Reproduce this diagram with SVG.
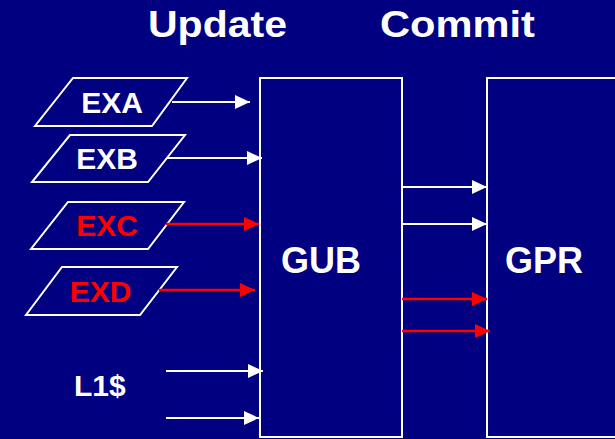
<svg xmlns="http://www.w3.org/2000/svg" width="615" height="439" viewBox="0 0 615 439">
<style>
.t{font-family:"Liberation Sans",Arial,sans-serif;font-weight:bold;fill:#ffffff}
.r{fill:#ff0000}
.box{fill:#000080;stroke:#ffffff;stroke-width:2}
.w{stroke:#ffffff;stroke-width:2;fill:none}
.rd{stroke:#ff0000;stroke-width:2.5;fill:none}
</style>
<defs>
<marker id="aw" markerUnits="userSpaceOnUse" markerWidth="16" markerHeight="16" refX="15" refY="7" orient="auto"><path d="M0,0 L15,7 L0,14 Z" fill="#ffffff"/></marker>
<marker id="ar" markerUnits="userSpaceOnUse" markerWidth="16" markerHeight="16" refX="15" refY="7" orient="auto"><path d="M0,0 L15,7 L0,14 Z" fill="#ff0000"/></marker>
</defs>
<rect width="615" height="439" fill="#000080"/>
<text class="t" x="148" y="37" font-size="37" textLength="139" lengthAdjust="spacingAndGlyphs">Update</text>
<text class="t" x="380" y="37" font-size="37" textLength="155" lengthAdjust="spacingAndGlyphs">Commit</text>
<g id="EXA"><polygon class="box" points="73,78 187,78 152,126 35,126"/><text class="t" x="112" y="113" font-size="30" text-anchor="middle">EXA</text></g>
<g id="EXB"><polygon class="box" points="70,135 185,135 148,182 32,182"/><text class="t" x="107" y="169" font-size="30" text-anchor="middle">EXB</text></g>
<g id="EXC"><polygon class="box" points="68,202 184,202 148,249 31,249"/><text class="t r" x="107" y="236" font-size="30" text-anchor="middle">EXC</text></g>
<g id="EXD"><polygon class="box" points="62,267 177,267 140,315 26,315"/><text class="t r" x="100.5" y="302" font-size="30" text-anchor="middle">EXD</text></g>
<g id="L1"><text class="t" x="74" y="396" font-size="30">L1$</text></g>
<g id="GUB"><rect class="box" x="260" y="78" width="142" height="359"/><text class="t" x="321" y="272.5" font-size="36" text-anchor="middle">GUB</text></g>
<g id="GPR"><rect class="box" x="487" y="78" width="140" height="359"/><text class="t" x="544" y="272.5" font-size="36" text-anchor="middle">GPR</text></g>
<g id="connectors">
<line class="w" x1="172" y1="102" x2="250" y2="102" marker-end="url(#aw)"/>
<line class="w" x1="167" y1="158" x2="262" y2="158" marker-end="url(#aw)"/>
<line class="rd" x1="166" y1="224" x2="259" y2="224" marker-end="url(#ar)"/>
<line class="rd" x1="159" y1="290" x2="255" y2="290" marker-end="url(#ar)"/>
<line class="w" x1="166" y1="371" x2="263" y2="371" marker-end="url(#aw)"/>
<line class="w" x1="166" y1="418" x2="259" y2="418" marker-end="url(#aw)"/>
<line class="w" x1="402" y1="187" x2="487" y2="187" marker-end="url(#aw)"/>
<line class="w" x1="402" y1="224" x2="487" y2="224" marker-end="url(#aw)"/>
<line class="rd" x1="402" y1="299" x2="487" y2="299" marker-end="url(#ar)"/>
<line class="rd" x1="402" y1="331" x2="490" y2="331" marker-end="url(#ar)"/>
</g>
</svg>
